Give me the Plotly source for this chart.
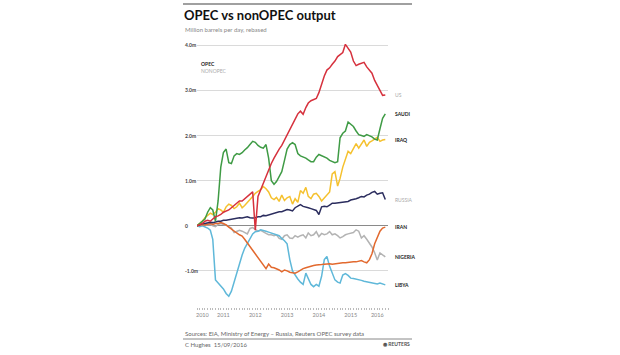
import pandas as pd
import plotly.graph_objects as go

# Monthly dates Sep 2010 .. Aug 2016
months = pd.date_range("2010-09-01", periods=72, freq="MS")

us = [0, 0.03, 0.05, 0.1, 0.12, 0.1, 0.15, 0.2, 0.22, 0.25, 0.3, 0.33, 0.35, 0.4, 0.45, 0.5,
      0.55, 0.55, 0.6, 0.65, 0.7, 0.75, -0.1, 0.65, 0.8, 0.95, 1.1, 1.25, 1.38, 1.5, 1.6, 1.7,
      1.78, 1.9, 2.0, 2.1, 2.22, 2.35, 2.48, 2.54, 2.47, 2.62, 2.72, 2.77, 2.8, 2.82, 2.95, 3.15,
      3.32, 3.45, 3.5, 3.58, 3.65, 3.75, 3.8, 3.84, 4.02, 3.94, 3.85, 3.65, 3.55, 3.58, 3.6, 3.62,
      3.52, 3.45, 3.38, 3.22, 3.12, 3.0, 2.89, 2.9]
saudi = [0, 0.05, 0.1, 0.15, 0.3, 0.4, 0.35, 0.1, 0.55, 1.3, 1.62, 1.7, 1.4, 1.38, 1.55, 1.6,
         1.58, 1.62, 1.68, 1.73, 1.8, 1.87, 1.85, 1.78, 1.74, 1.72, 1.8, 1.5, 1.0, 0.92, 0.98, 1.08,
         1.2, 1.45, 1.7, 1.8, 1.84, 1.8, 1.6, 1.55, 1.53, 1.5, 1.46, 1.42, 1.42, 1.52, 1.58, 1.55,
         1.52, 1.5, 1.45, 1.42, 1.4, 1.42, 1.95, 2.05, 2.1, 2.3, 2.26, 2.2, 2.1, 2.02, 2.0, 1.98,
         2.02, 2.0, 1.97, 1.92, 1.9, 2.15, 2.38, 2.48]
iraq = [0, 0.05, 0.1, 0.18, 0.22, 0.28, 0.25, 0.3, 0.38, 0.35, 0.3, 0.42, 0.48, 0.45, 0.38, 0.42,
        0.5, 0.4, 0.45, 0.53, 0.58, 0.65, 0.72, 0.76, 0.8, 0.87, 0.82, 0.75, 0.62, 0.58, 0.63, 0.54,
        0.68, 0.56, 0.62, 0.65, 0.48, 0.6, 0.52, 0.78, 0.72, 0.85, 0.65, 0.6, 0.7, 0.72, 0.65, 0.55,
        0.62, 0.7, 0.75, 1.15, 1.2, 0.88, 1.05, 1.3, 1.5, 1.65, 1.6, 1.7, 1.82, 1.72, 1.8, 1.9,
        1.76, 1.85, 1.88, 1.92, 1.96, 1.87, 1.9, 1.91]
russia = [0, 0.03, 0.05, 0.05, 0.06, 0.08, 0.07, 0.09, 0.1, 0.1, 0.12, 0.12, 0.13, 0.14, 0.15, 0.17,
          0.18, 0.17, 0.19, 0.2, 0.18, 0.17, 0.18, 0.2, 0.2, 0.23, 0.22, 0.24, 0.25, 0.27, 0.3, 0.31,
          0.31, 0.33, 0.36, 0.35, 0.33, 0.4, 0.44, 0.47, 0.43, 0.42, 0.4, 0.38, 0.36, 0.34, 0.25, 0.42,
          0.43, 0.42, 0.46, 0.5, 0.5, 0.51, 0.52, 0.53, 0.53, 0.54, 0.57, 0.58, 0.6, 0.62, 0.65, 0.64,
          0.68, 0.7, 0.74, 0.76, 0.7, 0.72, 0.73, 0.58]
iran = [0, 0.02, 0.03, 0.02, 0.03, 0.05, 0.03, 0.05, 0.05, 0.07, 0.05, 0.02, -0.03, -0.08, -0.12, -0.16,
        -0.2, -0.23, -0.3, -0.38, -0.47, -0.55, -0.62, -0.72, -0.78, -0.85, -0.95, -0.85, -0.92, -0.93, -0.95, -0.98,
        -1.02, -0.98, -1.0, -1.03, -1.04, -1.05, -1.02, -0.98, -0.95, -0.93, -0.91, -0.9, -0.88, -0.87, -0.87, -0.86,
        -0.85, -0.84, -0.84, -0.85, -0.84, -0.84, -0.83, -0.82, -0.82, -0.81, -0.81, -0.8, -0.8, -0.78, -0.77, -0.8,
        -0.82, -0.75, -0.62, -0.4, -0.25, -0.12, -0.05, -0.03]
nigeria = [0, 0.0, 0.02, 0.0, 0.02, 0.03, 0.0, -0.02, 0.03, 0.05, 0.03, 0.02, -0.02, -0.05, -0.15, -0.13,
           -0.1, -0.12, -0.15, -0.18, -0.06, -0.04, -0.08, -0.12, -0.1, -0.14, -0.17, -0.2, -0.2, -0.22, -0.2, -0.28,
           -0.3, -0.22, -0.2, -0.27, -0.28, -0.22, -0.25, -0.22, -0.2, -0.27, -0.16, -0.22, -0.2, -0.13, -0.24, -0.17,
           -0.2, -0.18, -0.13, -0.2, -0.18, -0.22, -0.27, -0.24, -0.2, -0.18, -0.16, -0.15, -0.09, -0.12, -0.27, -0.22,
           -0.3, -0.38, -0.47, -0.6, -0.76, -0.6, -0.64, -0.69]
libya = [0, -0.02, 0.0, -0.03, -0.05, -0.1, -0.3, -1.2, -1.27, -1.33, -1.4, -1.5, -1.56, -1.45, -1.25, -1.02,
         -0.82, -0.65, -0.5, -0.4, -0.3, -0.18, -0.13, -0.12, -0.09, -0.1, -0.12, -0.14, -0.16, -0.17, -0.2, -0.22,
         -0.28, -0.33, -0.4, -0.75, -1.0, -1.1, -1.18, -1.25, -1.3, -1.05, -1.18, -1.3, -1.35, -1.3, -1.34, -1.12,
         -0.75, -0.68, -0.9, -1.05, -1.2, -1.25, -1.27, -1.09, -1.06, -1.1, -1.16, -1.17, -1.18, -1.2, -1.21, -1.23,
         -1.24, -1.25, -1.26, -1.28, -1.29, -1.27, -1.29, -1.31]

series_names = ["NIGERIA", "LIBYA", "IRAN", "RUSSIA", "IRAQ", "SAUDI", "US"]
series_values = [nigeria, libya, iran, russia, iraq, saudi, us]
series_colors = ["#b3b3b3", "#5fb8d9", "#e2692e", "#2b2d5e", "#f5c12e", "#3f9b45", "#d6313d"]
series_opec = [True, True, True, False, True, True, False]

y_ticks = [4, 3, 2, 1, 0, -1]
y_tick_labels = ["4.0m", "3.0m", "2.0m", "1.0m", "0", "-1.0m"]

year_tick_dates = ["2010-11-01", "2011-07-01", "2012-07-01", "2013-07-01",
                   "2014-07-01", "2015-07-01", "2016-05-01"]
year_tick_labels = ["2010", "2011", "2012", "2013", "2014", "2015", "2016"]

FONT = "Lato"
L, R, T, B = 197, 388, 43, 307  # plot area in pixels
W, H = 620, 355


def px(x):
    return (x - L) / (R - L)


def py(y):
    return (B - y) / (B - T)


fig = go.Figure()
for name, vals, col in zip(series_names, series_values, series_colors):
    fig.add_trace(go.Scatter(x=months, y=vals, mode="lines", name=name,
                             line=dict(color=col, width=1.5), hoverinfo="skip",
                             showlegend=False))

annotations = []
# y tick labels (left aligned)
for v, t in zip(y_ticks, y_tick_labels):
    annotations.append(dict(x=px(183), y=v, xref="paper", yref="y", text="<b>" + t + "</b>",
                            showarrow=False, xanchor="left", yanchor="middle",
                            font=dict(family=FONT, size=5, color="#444")))

# end labels
for name, vals, col, opec in zip(series_names, series_values, series_colors, series_opec):
    annotations.append(dict(x=px(393), y=vals[-1], xref="paper", yref="y",
                            text=("<b>" + name + "</b>") if opec else name,
                            showarrow=False, xanchor="left", yanchor="middle",
                            font=dict(family=FONT, size=5, color="#222" if opec else "#aaa")))

# title etc.
annotations += [
    dict(x=px(182), y=py(15), xref="paper", yref="paper", text="<b>OPEC vs nonOPEC output</b>",
         showarrow=False, xanchor="left", yanchor="middle",
         font=dict(family=FONT, size=13, color="#111")),
    dict(x=px(183), y=py(29), xref="paper", yref="paper", text="Million barrels per day, rebased",
         showarrow=False, xanchor="left", yanchor="middle",
         font=dict(family=FONT, size=6, color="#888")),
    dict(x=px(199), y=py(64), xref="paper", yref="paper", text="<b>OPEC</b>",
         showarrow=False, xanchor="left", yanchor="middle",
         font=dict(family=FONT, size=5, color="#222")),
    dict(x=px(199), y=py(71), xref="paper", yref="paper", text="NONOPEC",
         showarrow=False, xanchor="left", yanchor="middle",
         font=dict(family=FONT, size=5, color="#aaa")),
    dict(x=px(183), y=py(333), xref="paper", yref="paper",
         text="Sources: EIA, Ministry of Energy \u2013 Russia, Reuters OPEC survey data",
         showarrow=False, xanchor="left", yanchor="middle",
         font=dict(family=FONT, size=6, color="#666")),
    dict(x=px(183), y=py(344), xref="paper", yref="paper", text="C Hughes  15/09/2016",
         showarrow=False, xanchor="left", yanchor="middle",
         font=dict(family=FONT, size=6, color="#666")),
    dict(x=px(412), y=py(344), xref="paper", yref="paper", text="<b>\u25c9 REUTERS</b>",
         showarrow=False, xanchor="right", yanchor="middle",
         font=dict(family=FONT, size=5, color="#555")),
]

shapes = [
    dict(type="rect", xref="paper", yref="paper", x0=px(183), x1=px(412), y0=py(5), y1=py(3),
         fillcolor="#a0a0a0", line=dict(width=0)),
    dict(type="line", xref="paper", yref="paper", x0=px(183), x1=px(412), y0=py(339), y1=py(339),
         line=dict(color="#888", width=1)),
]

fig.update_layout(
    width=W, height=H,
    margin=dict(l=L, r=W - R, t=T, b=H - B, pad=0),
    paper_bgcolor="white", plot_bgcolor="white",
    annotations=annotations, shapes=shapes,
    font=dict(family=FONT),
    xaxis=dict(type="date", range=["2010-09-01", "2016-09-01"],
               tickvals=year_tick_dates, ticktext=year_tick_labels,
               ticks="", showgrid=False, zeroline=False, showline=False,
               ticklabelstandoff=3,
               tickfont=dict(family=FONT, size=5.5, color="#888"),
               minor=dict(ticks="outside", dtick="M1", tick0="2010-09-01", ticklen=2,
                          tickcolor="#bbb", tickwidth=0.6, showgrid=False)),
    yaxis=dict(range=[-1.8, 4.05], tickvals=y_ticks, showticklabels=False, ticks="",
               showgrid=True, gridcolor="#dadada", gridwidth=1,
               zeroline=True, zerolinecolor="#8a8a8a", zerolinewidth=1, showline=False),
)

fig.write_html("out.html", config={"displayModeBar": False},
               post_script="document.body.style.margin='0';document.body.style.overflow='hidden';")
